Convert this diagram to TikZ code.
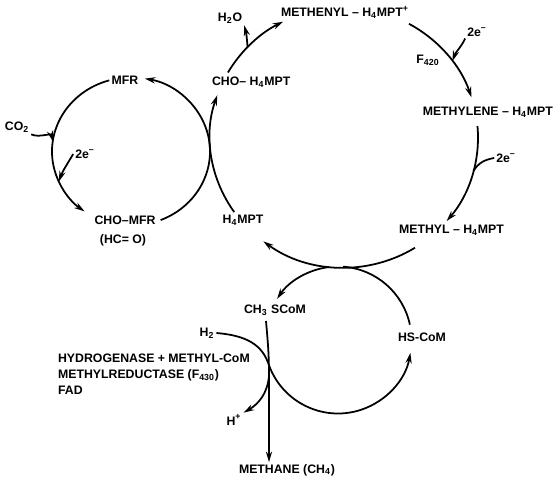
\documentclass[tikz,border=0pt]{standalone}
\usepackage{fontspec}
\setmainfont{Liberation Sans}
\usetikzlibrary{arrows.meta,calc}
\tikzset{
  flow/.style={line width=1pt, -{Stealth[length=6pt,width=3.5pt]}},
  plain/.style={line width=1pt},
  lbl/.style={inner sep=1pt, font=\fontsize{7}{9}\selectfont\bfseries}
}
\begin{document}
\begin{tikzpicture}[x=0.02cm, y=0.02cm]
                \useasboundingbox (0,0) rectangle (556,484);
                % Centros
                \coordinate (L) at (131,332.5);
                \coordinate (B) at (344,346.5);
                \coordinate (C) at (338,144);

                % Textos
                \node[lbl] (h2o) at (230,466) {H\textsubscript{2}O};
                \node[lbl] (methenyl) at (345,472) {METHENYL -- H\textsubscript{4}MPT\textsuperscript{+}};
                \node[lbl] (f420) at (428,424) {F\textsubscript{420}};
                \node[lbl] (e2a) at (477,452) {2e\textsuperscript{--}};
                \node[lbl, anchor=east] (methylene) at (555,372) {METHYLENE -- H\textsubscript{4}MPT};
                \node[lbl] (e2b) at (506,326) {2e\textsuperscript{--}};
                \node[lbl, anchor=west] (methyl) at (397,254) {METHYL -- H\textsubscript{4}MPT};
                \node[lbl, anchor=west] (choh) at (210,402) {CHO-- H\textsubscript{4}MPT};
                \node[lbl] (mfr) at (125,404) {MFR};
                \node[lbl] (co2) at (17,357) {CO\textsubscript{2}};
                \node[lbl] (e2c) at (85,330) {2e\textsuperscript{--}};
                \node[lbl] (chomfr) at (125,264) {CHO--MFR};
                \node[lbl] (hco) at (123,244) {(HC= O)};
                \node[lbl] (h4mpt) at (243,264) {H\textsubscript{4}MPT};
                \node[lbl, anchor=west] (ch3) at (242,174) {CH\textsubscript{3} SCoM};
                \node[lbl] (hscom) at (422,147) {HS-CoM};
                \node[lbl] (h2) at (207,151) {H\textsubscript{2}};
                \node[lbl, anchor=north west, align=left] (enz) at (56,132)
                  {HYDROGENASE + METHYL-CoM\\METHYLREDUCTASE (F\textsubscript{430})\\FAD};
                \node[lbl] (hplus) at (234,64) {H\textsuperscript{+}};
                \node[lbl] (methane) at (287,14) {METHANE (CH\textsubscript{4})};

                % Ciclo MFR
                \draw[flow] (L) ++(-68:79 and 74) arc (-68:80:79 and 74);
                \draw[flow] (L) ++(106:79 and 74) arc (106:234:79 and 74);
                \draw[flow] (co2.south east) to[out=-25,in=105] ($(L)+(172:79 and 74)$);
                \draw[flow] (e2c.west) to[out=-120,in=70] ($(L)+(204:79 and 74)$);

                % Ciclo H4MPT
                \draw[flow] (B) ++(302:134 and 130) arc (302:233:134 and 130);
                \draw[flow] (B) ++(215:134 and 130) arc (215:161:134 and 130);
                \draw[flow] (B) ++(150:134 and 130) arc (150:117:134 and 130);
                \draw[flow] ($(B)+(136:134 and 130)$) to[out=95,in=-75] (h2o.south east);
                \draw[flow] (B) ++(61:134 and 130) arc (61:18:134 and 130);
                \draw[flow] (e2a.south west) to[out=-115,in=70] ($(B)+(36:134 and 130)$);
                \draw[flow] (B) ++(5:134 and 130) arc (5:-40:134 and 130);
                \draw[plain] (e2b.west) to[out=-170,in=60] ($(B)+(-15:134 and 130)$);

                % Ciclo CoM
                \draw[flow] (C) ++(97:73.5) arc (97:146:73.5);
                \draw[flow] (C) ++(198:73.5) arc (198:350:73.5);
                \draw[plain] (C) ++(12:73.5) arc (12:86:73.5);
                \coordinate (drop) at (266,163);
                \coordinate (split) at (269,108);
                \draw[flow] (drop) to[out=-85,in=90] (split) -- (split |- methane.north);
                \draw[plain] (h2.east) to[out=-5,in=110] ($(C)+(198:73.5)$);
                \draw[flow] (split) to[out=-95,in=30] (hplus.north east);
\end{tikzpicture}
\end{document}
